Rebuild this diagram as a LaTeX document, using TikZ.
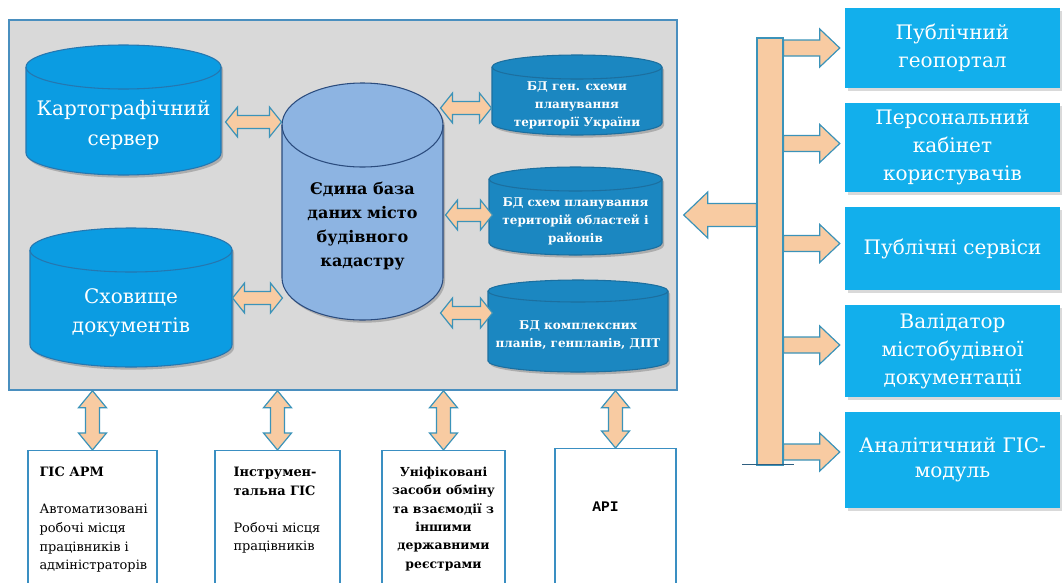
\documentclass[tikz,border=0pt]{standalone}
\usepackage{fontspec}
\setmainfont{DejaVu Serif}
\newfontfamily\apifont{Liberation Mono}
\usetikzlibrary{positioning,calc,shadows}
\definecolor{panelgray}{HTML}{D9D9D9}
\definecolor{panelline}{HTML}{4A8FBF}
\definecolor{cylblue}{HTML}{0B9CE2}
\definecolor{cylline}{HTML}{2577B0}
\definecolor{coreblue}{HTML}{8DB4E2}
\definecolor{coreline}{HTML}{2B4C7E}
\definecolor{dbblue}{HTML}{1B87C1}
\definecolor{dbline}{HTML}{1C6F9F}
\definecolor{svcblue}{HTML}{12AFEC}
\definecolor{peach}{HTML}{F8CBA2}
\definecolor{arrowline}{HTML}{3B93B9}
\definecolor{boxline}{HTML}{3A8FC2}
\definecolor{basedark}{HTML}{2F5F80}

\tikzset{
  dblarrow/.style n args={3}{draw=arrowline, fill=peach, line width=0.9pt,
    to path={let \p1=(\tikztostart), \p2=(\tikztotarget), \n1={atan2(\y2-\y1,\x2-\x1)} in
      -- ($(\p1)+(\n1:#3)+(\n1+90:#1)$) -- ($(\p1)+(\n1:#3)+(\n1+90:#2)$)
      -- ($(\p2)+(\n1+180:#3)+(\n1+90:#2)$) -- ($(\p2)+(\n1+180:#3)+(\n1+90:#1)$)
      -- (\p2)
      -- ($(\p2)+(\n1+180:#3)+(\n1-90:#1)$) -- ($(\p2)+(\n1+180:#3)+(\n1-90:#2)$)
      -- ($(\p1)+(\n1:#3)+(\n1-90:#2)$) -- ($(\p1)+(\n1:#3)+(\n1-90:#1)$)
      -- cycle}},
  onearrow/.style n args={3}{draw=arrowline, fill=peach, line width=0.9pt,
    to path={let \p1=(\tikztostart), \p2=(\tikztotarget), \n1={atan2(\y2-\y1,\x2-\x1)} in
      -- ($(\p1)+(\n1+90:#2)$)
      -- ($(\p2)+(\n1+180:#3)+(\n1+90:#2)$) -- ($(\p2)+(\n1+180:#3)+(\n1+90:#1)$)
      -- (\p2)
      -- ($(\p2)+(\n1+180:#3)+(\n1-90:#1)$) -- ($(\p2)+(\n1+180:#3)+(\n1-90:#2)$)
      -- ($(\p1)+(\n1-90:#2)$) -- cycle}},
  inarrow/.style={dblarrow={11.25pt}{4.9pt}{9pt}},
  vtarrow/.style={dblarrow={10.5pt}{5.25pt}{12.75pt}},
  feedarrow/.style={onearrow={14.25pt}{6pt}{15pt}},
  hubarrow/.style={onearrow={17.25pt}{8.6pt}{18pt}},
  % database drum: width, height, cap radius (px), text
  pics/dbcyl/.style n args={4}{code={
    \pgfmathsetmacro\hw{#1*0.375}
    \pgfmathsetmacro\hh{#2*0.375}
    \pgfmathsetmacro\ry{#3*0.75}
    \pgfmathsetmacro\ey{\hh-\ry}
    \pgfmathsetmacro\ty{-0.5*\ry-3}
    \fill[black, opacity=0.2, xshift=1.5pt, yshift=-2pt] (-\hw pt,\ey pt) -- (-\hw pt,-\ey pt)
      arc (180:360:\hw pt and \ry pt) -- (\hw pt,\ey pt) arc (0:180:\hw pt and \ry pt) -- cycle;
    \path[pic actions] (-\hw pt,\ey pt) -- (-\hw pt,-\ey pt)
      arc (180:360:\hw pt and \ry pt) -- (\hw pt,\ey pt) arc (0:180:\hw pt and \ry pt) -- cycle;
    \path[pic actions, fill=none] (\hw pt,\ey pt) arc (0:-180:\hw pt and \ry pt);
    \node[align=center, inner sep=0pt, minimum width={\hw*2pt}] (-body) at (0pt,\ty pt) {#4};
  }},
}

\begin{document}
\begin{tikzpicture}[x=0.75pt, y=-0.75pt,
  panelbox/.style={draw=panelline, line width=1.1pt, fill=panelgray, minimum width=501pt, minimum height=277.5pt},
  cylpaint/.style={draw=cylline, line width=0.8pt, fill=cylblue, text=white, font=\fontsize{15}{22}\selectfont},
  corepaint/.style={draw=coreline, line width=0.8pt, fill=coreblue, text=black, font=\bfseries\fontsize{12}{18}\selectfont},
  subpaint/.style={draw=dbline, line width=0.8pt, fill=dbblue, text=white, font=\bfseries\fontsize{9}{13.5}\selectfont},
  svcbox/.style={fill=svcblue, text=white, align=center, minimum width=161.25pt, font=\fontsize{15}{21}\selectfont,
    drop shadow={opacity=0.3, shadow xshift=2pt, shadow yshift=-2pt}},
  clientbox/.style={draw=boxline, line width=1.1pt, fill=white, minimum height=120pt, anchor=north},
  clienttext/.style={font=\fontsize{9.7}{13.9}\selectfont, inner sep=0pt},
  busbar/.style={draw=arrowline, line width=0.9pt, fill=peach, minimum width=19.5pt, minimum height=320.25pt},
  busbase/.style={draw=basedark, line width=1pt},
]
\useasboundingbox (0,0) rectangle (1062,582);
\clip (0,0) rectangle (1062,582);

% central panel with the databases
\node[panelbox] (panel) at (343,205) {};
\pic[cylpaint] (cart) at (123.5,110) {dbcyl={195}{130}{22}{Картографічний\\сервер}};
\pic[cylpaint] (store) at (131,297.5) {dbcyl={202}{139}{22}{Сховище\\документів}};
\pic[corepaint] (core) at (362.5,201.5) {dbcyl={161}{237}{42}{Єдина база\\даних місто\\будівного\\кадастру}};
\pic[subpaint] (gen) at (577,95) {dbcyl={170}{80}{12}{БД ген. схеми\\планування\\території України}};
\pic[subpaint] (reg) at (575.5,211) {dbcyl={173}{88}{12}{БД схем планування\\територій областей і\\районів}};
\pic[subpaint] (plan) at (578,326) {dbcyl={180}{92}{11}{БД комплексних\\планів, генпланів, ДПТ}};

\draw[inarrow] ($(cart-body.east)+(4,-3)$) to ($(core-body.west |- cart-body.east)+(0,-3)$);
\draw[inarrow] ($(store-body.east)+(0,-14.5)$) to ($(core-body.west |- store-body.east)+(1,-14.5)$);
\draw[inarrow] ($(core-body.east |- gen-body.west)+(-3,3)$) to ($(gen-body.west)+(0,3)$);
\draw[inarrow] ($(core-body.east |- reg-body.west)+(2,-6)$) to ($(reg-body.west)+(4,-6)$);
\draw[inarrow] ($(core-body.east |- plan-body.west)+(-3,-22.5)$) to ($(plan-body.west)+(5,-22.5)$);

% client boxes below
\node[clientbox, minimum width=96.75pt] (arm) at (92.5,450) {};
\node[clientbox, minimum width=93.75pt] (tool) at (277.5,450) {};
\node[clientbox, minimum width=92.25pt] (xchg) at (443.5,450) {};
\node[clientbox, minimum width=90.75pt] (api) at (615.5,448) {};
\foreach \c in {arm,tool,xchg,api}
  \draw[vtarrow] (\c.north |- panel.south) to (\c.north);

\node[clienttext, anchor=north west, align=left] (armtext) at ($(arm.north west)+(12,17)$)
  {\textbf{ГІС АРМ}\\[13.9pt]Автоматизовані\\робочі місця\\працівників і\\адміністраторів};
\node[clienttext, anchor=north west, align=left] (tooltext) at ($(tool.north west)+(19,17)$)
  {\textbf{Інструмен-}\\\textbf{тальна ГІС}\\[13.9pt]Робочі місця\\працівників};
\node[clienttext, anchor=north, align=center, font=\bfseries\fontsize{9.3}{13.7}\selectfont] (xchgtext) at ($(xchg.north)+(0,17)$)
  {Уніфіковані\\засоби обміну\\та взаємодії з\\іншими\\державними\\реєстрами};
\node[font=\apifont\bfseries\fontsize{11}{13}\selectfont] (apitext) at ($(api.north)+(-10,59)$) {API};

% public services on the right
\node[svcbox, minimum height=60pt] (geo) at (952.5,48) {Публічний\\геопортал};
\node[svcbox, minimum height=66.75pt] (cab) at (952.5,147.5) {Персональний\\кабінет\\користувачів};
\node[svcbox, minimum height=62.25pt] (srv) at (952.5,248.5) {Публічні сервіси};
\node[svcbox, minimum height=69pt] (val) at (952.5,351) {Валідатор\\містобудівної\\документації};
\node[svcbox, minimum height=72pt, font=\fontsize{15}{19}\selectfont] (ana) at (952.5,460) {Аналітичний ГІС-\\модуль};

\node[busbar] (bus) at (770,251.5) {};
\foreach \b/\dy in {geo/0,cab/-4,srv/-5,val/-6,ana/-8}
  \draw[feedarrow] ($(bus.east |- \b.west)+(0,\dy)$) to ($(\b.west)+(-5,\dy)$);
\draw[busbase] ($(bus.south west)+(-14,-1)$) -- ($(bus.south east)+(10,-1)$);
\coordinate (hubtip) at ($(panel.east)+(6,10)$);
\draw[hubarrow] (bus.west |- hubtip) to (hubtip);
\end{tikzpicture}
\end{document}
